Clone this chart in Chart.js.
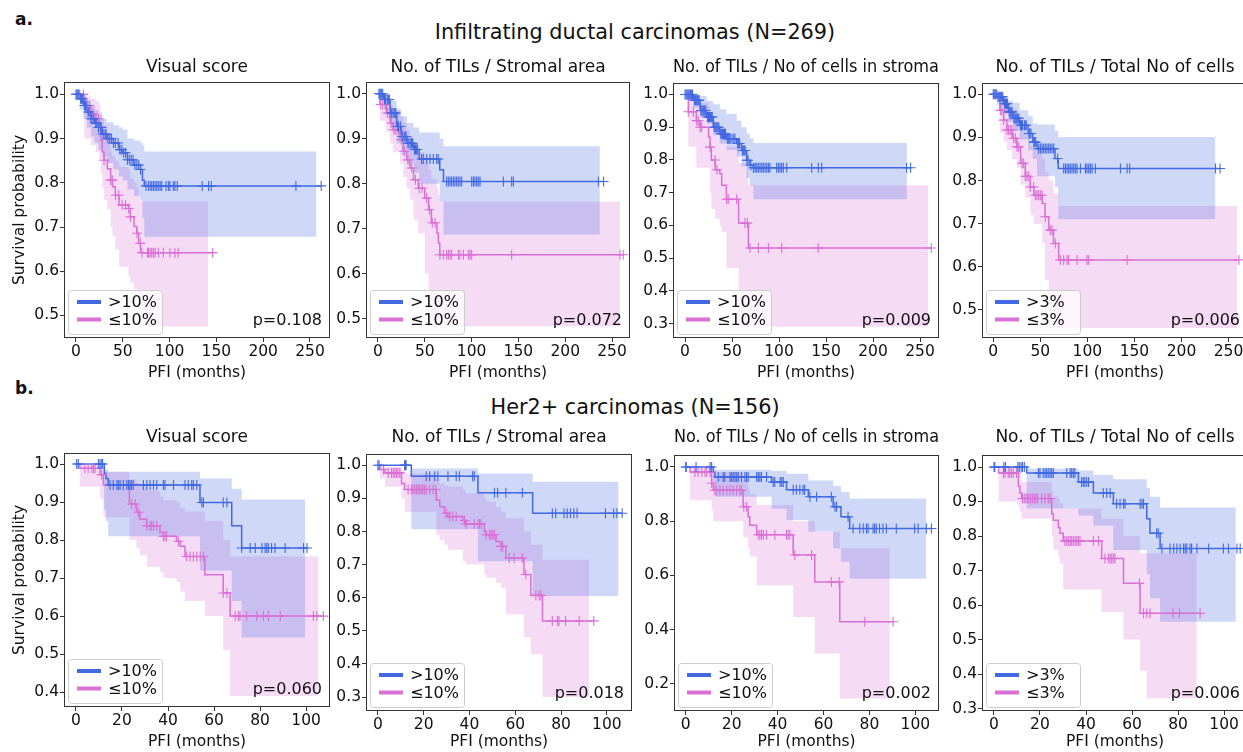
<!DOCTYPE html>
<html><head><meta charset="utf-8">
<script src="https://cdn.jsdelivr.net/npm/chart.js@4.4.1/dist/chart.umd.min.js"></script>
<style>
html,body{margin:0;padding:0;background:#fff;width:1243px;height:752px;overflow:hidden;position:relative;font-family:"DejaVu Sans",sans-serif;color:#111}
canvas{position:absolute}
.t{position:absolute;white-space:nowrap;line-height:1}
</style></head><body>
<div class="t" style="left:15px;top:11px;font-size:17px;font-weight:bold">a.</div>
<div class="t" style="left:635px;top:21.5px;font-size:20.8px;transform:translateX(-50%)">Infiltrating ductal carcinomas (N=269)</div>
<div class="t" style="left:15px;top:380px;font-size:17px;font-weight:bold">b.</div>
<div class="t" style="left:635px;top:397px;font-size:20.8px;transform:translateX(-50%)">Her2+ carcinomas (N=156)</div>
<script>
// ---------- tick labels ----------
const topXTicks = [0, 50, 100, 150, 200, 250];
const botXTicks = [0, 20, 40, 60, 80, 100];
const yTicks05 = [0.5, 0.6, 0.7, 0.8, 0.9, 1.0];
const yTicks03 = [0.3, 0.4, 0.5, 0.6, 0.7, 0.8, 0.9, 1.0];
const yTicks04 = [0.4, 0.5, 0.6, 0.7, 0.8, 0.9, 1.0];
const yTicks02 = [0.2, 0.4, 0.6, 0.8, 1.0];
const panelTitles = ["Visual score", "No. of TILs / Stromal area", "No. of TILs / No of cells in stroma", "No. of TILs / Total No of cells"];
const pValuesA = ["p=0.108", "p=0.072", "p=0.009", "p=0.006"];
const pValuesB = ["p=0.060", "p=0.018", "p=0.002", "p=0.006"];
const legend10 = [">10%", "≤10%"];
const legend3 = [">3%", "≤3%"];

// ---------- a1: Visual score (IDC) ----------
const a1HiT = [0,4,8,12,16,20,24,28,33,40,46,50,55,62,69,71,73];
const a1HiS = [1,.99,.975,.96,.945,.935,.925,.91,.90,.89,.875,.868,.852,.84,.83,.806,.793];
const a1HiU = [1,1,.995,.985,.975,.965,.955,.945,.937,.93,.925,.92,.90,.895,.89,.885,.871];
const a1HiL = [1,.965,.945,.925,.905,.89,.875,.86,.845,.83,.815,.805,.785,.77,.76,.72,.678];
const a1HiEnd = [262, 257];
const a1HiC = [0,1,2,3,5,6,7,9,10,11,13,14,16,17,19,21,22,24,26,27,29,31,32,34,36,38,40,42,45,47,49,51,53,55,57,59,61,63,65,67,69,74.8,77.3,79.3,81,82.7,84.5,86.3,88,89.9,91.6,96.2,98.7,100.4,104,105.7,108.2,134.9,141.6,144.5,235,262];
const a1LoT = [0,9,16,21,25,26.5,28,30,33.5,37,39,42,46,56,58,62,65,67,69];
const a1LoS = [1,.975,.956,.945,.926,.896,.87,.851,.832,.806,.791,.772,.75,.742,.723,.701,.686,.663,.642];
const a1LoU = [1,.995,.99,.985,.975,.96,.945,.93,.91,.87,.86,.85,.836,.83,.81,.80,.79,.77,.758];
const a1LoL = [1,.90,.885,.87,.85,.82,.79,.76,.74,.70,.68,.65,.61,.59,.575,.56,.545,.51,.475];
const a1LoEnd = [146, 141];
const a1LoC = [4,8,12,14.1,18,21.1,24,26.4,30,37,38.8,42.3,45.8,49.3,52.9,56.4,58.2,65.2,68.7,70.5,76.4,77.5,79.3,81,82.8,84.6,88,93.3,100.4,105.7,109.2,146];

// ---------- a2: Stromal area (IDC) ----------
const a2HiT = [0,6,13,20,25,31,38,44,66,70];
const a2HiS = [1,.987,.957,.927,.905,.89,.876,.855,.831,.805];
const a2HiU = [1,.998,.985,.965,.95,.935,.925,.914,.90,.883];
const a2HiL = [1,.965,.93,.89,.865,.845,.825,.80,.76,.687];
const a2HiEnd = [241, 237];
const a2HiC = [1,2,3,4,5,7,8,10,11,12,14,15,17,18,19,21,22,24,26,28,29,30,32,33,35,36,37,39,40,41,42,46.6,48.4,52,55.6,59.1,62.7,64.4,73.4,75.1,76.9,78.7,80.5,82.3,84,85.8,87.6,89.4,100.1,101.9,103.6,105.4,107.2,109,133.9,142.8,144.6,235.4,241];
const a2LoT = [0,2,9,13,16,23.5,27,30.6,34,38,43,50,54,57,63,64.5,66];
const a2LoS = [1,.976,.957,.935,.92,.898,.872,.853,.835,.809,.79,.768,.742,.713,.69,.668,.642];
const a2LoU = [1,.998,.99,.975,.965,.95,.935,.92,.905,.89,.87,.85,.83,.81,.79,.775,.76];
const a2LoL = [1,.94,.915,.89,.87,.845,.815,.79,.765,.72,.69,.60,.483,.483,.483,.483,.483];
const a2LoEnd = [262, 258.5];
const a2LoC = [3,5,8,10,12,14,17,19,22,25,28,32,36,40,44,47,52,55,58,61,66.2,69.8,73.3,75.1,76.9,78.7,85.8,87.6,91.2,96.6,98.4,100.1,142.8,258.5,262];

// ---------- a3: No of cells in stroma (IDC) ----------
const a3HiT = [0,9,16,23,30,37,44,55,60,65.6,69,72.7];
const a3HiS = [1,.982,.951,.931,.90,.88,.865,.85,.829,.799,.784,.776];
const a3HiU = [1,1,.995,.98,.97,.955,.94,.92,.90,.88,.866,.852];
const a3HiL = [1,.96,.93,.91,.875,.85,.83,.81,.78,.745,.72,.68];
const a3HiEnd = [240, 236];
const a3HiC = [0,1,2,3,4,5,6,7,8,10,11,12,13,14,15,17,18,19,20,21,22,24,25,26,27,28,29,31,32,33,34,35,36,38,39,40,41,42,43,45,46,47,48,50,52,53,56,57,58,61,62,63,64,66,67,70,72.7,74.5,76.2,78,79.8,81.6,83.3,85.1,86.9,88.7,90.4,97.5,99.3,101.1,102.8,104.6,108.2,134.8,141.8,145.4,235.8,240];
const a3LoT = [0,3.5,12,16,25,26.6,28,32,37,39,44,57,67.4];
const a3LoS = [1,.947,.92,.90,.87,.839,.80,.77,.758,.723,.68,.607,.531];
const a3LoU = [1,.995,.985,.975,.965,.94,.92,.90,.89,.87,.84,.79,.723];
const a3LoL = [1,.84,.776,.776,.776,.70,.65,.62,.60,.58,.47,.29,.29];
const a3LoEnd = [262, 259];
const a3LoC = [3.5,8.9,12.4,14.2,16,17.7,26.6,31.9,34,44.3,46,54.9,63.8,66.3,69.1,78,88.7,102.8,141.8,262];

// ---------- a4: Total No of cells (IDC) ----------
const a4HiT = [0,4,11,16,21,28,37,42,46.5,65.5,69];
const a4HiS = [1,.994,.978,.959,.944,.928,.909,.889,.874,.851,.828];
const a4HiU = [1,1,.995,.985,.98,.963,.95,.932,.93,.915,.901];
const a4HiL = [1,.975,.955,.935,.915,.895,.87,.85,.81,.785,.71];
const a4HiEnd = [241, 236];
const a4HiC = [0,1,2,3,5,6,7,8,9,10,12,13,14,15,17,18,19,20,22,23,24,25,26,27,29,30,31,33,34,35,38,39,40,43,44,45,48.2,50,51.8,53.5,55.3,57.1,58.9,60.6,62.4,64.2,68.4,74.8,76.6,78.4,80.1,81.9,83.7,85.5,87.2,89,92.6,97.9,99.6,101.4,103.2,105,108.5,135.1,142.2,145,236.2,241];
const a4LoT = [0,7,11,14.5,20,25,29,34,39.4,43,52,55,59,64,69.5];
const a4LoS = [1,.963,.94,.917,.898,.878,.84,.81,.785,.766,.747,.716,.685,.654,.616];
const a4LoU = [1,.995,.99,.975,.965,.95,.93,.91,.88,.87,.85,.82,.80,.77,.741];
const a4LoL = [1,.91,.89,.87,.85,.83,.79,.76,.72,.70,.654,.57,.458,.458,.458];
const a4LoEnd = [261, 259];
const a4LoC = [3.9,7.4,9.2,11,14.5,16.3,18.1,19.9,21.6,23.4,25.2,27,30.5,32.3,34,35.8,37.6,39.4,42.9,44.7,46.5,48.2,50,51.8,55.3,60.6,62.4,65.9,71.3,74.8,78.4,80.1,89,99.6,101.4,142.2,261];

// ---------- b1: Visual score (Her2+) ----------
const b1HiT = [0,12.3,13,14,53.9,67.7,72];
const b1HiS = [1,.975,.962,.945,.899,.838,.779];
const b1HiU = [1,.99,.985,.98,.962,.935,.907];
const b1HiL = [1,.88,.85,.81,.72,.64,.544];
const b1HiEnd = [100.4, 99.6];
const b1HiC = [0.3,1,9.8,10.5,11.2,11.6,14.8,16.2,17.8,18.5,19.2,20.6,22.1,22.8,23.5,24.2,24.9,29.3,30.8,32.2,33.7,35.1,38,38.7,42.4,47.4,48.8,50.3,51,52.5,54.7,55.4,64,65.6,72,75.7,77.9,80.8,82.2,82.9,83.6,85,86.5,90.9,98.9,100.4];
const b1LoT = [0,1.7,10.5,11.9,23.2,26.3,27.8,30.8,36.5,38,43.7,45.3,47.4,56,64,67];
const b1LoS = [1,.989,.972,.945,.895,.873,.855,.838,.82,.81,.797,.784,.757,.709,.661,.60];
const b1LoU = [1,.999,.99,.98,.96,.95,.945,.93,.915,.905,.90,.885,.875,.85,.80,.757];
const b1LoL = [1,.94,.91,.86,.80,.78,.76,.73,.715,.70,.69,.665,.64,.60,.51,.39];
const b1LoEnd = [107.5, 105.4];
const b1LoC = [3.9,5.3,6.9,7.6,8.3,11.2,24.2,25.7,27.1,30.8,32.2,32.9,33.7,35.1,38,38.7,39.4,44.5,48.1,49.6,51,52.5,54,55.4,64,65.6,69.2,70.6,71.3,74.2,78.6,81.5,83.6,88.8,103.2,104.7,107.5];

// ---------- b2: Stromal area (Her2+) ----------
const b2HiT = [0,14.6,43.7,67.6];
const b2HiS = [1,.967,.917,.855];
const b2HiU = [1,.99,.975,.95];
const b2HiL = [1,.807,.71,.605];
const b2HiEnd = [106.7, 105.1];
const b2HiC = [0,0.5,11.7,11.9,12.1,12.3,21.1,22.6,24.8,26.2,30.6,34.2,35.6,41.4,42.1,50.9,52.3,55.9,63.1,76.2,77.7,81.3,82.7,84.1,85.6,87,99.4,103,104.4,106.7];
const b2LoT = [0,0.9,3.1,10.3,11.7,25.5,27,29.1,30.6,37.1,38.5,46.5,47.3,51.6,53.8,55.9,63.8,66.8,71.9];
const b2LoS = [1,.987,.977,.945,.927,.895,.875,.855,.845,.833,.823,.80,.79,.77,.755,.72,.67,.607,.53];
const b2LoU = [1,.998,.995,.985,.975,.955,.945,.94,.935,.925,.915,.90,.89,.875,.86,.84,.80,.76,.715];
const b2LoL = [1,.96,.935,.90,.86,.79,.775,.76,.745,.71,.70,.67,.66,.645,.63,.55,.48,.43,.30];
const b2LoEnd = [94.3, 92.2];
const b2LoC = [2.4,4.5,5.9,6.7,7.4,8.1,8.8,9.6,13.2,14.6,15.3,16.1,16.8,17.5,18.2,19,19.7,20.4,21.1,22.6,24.1,25.2,29.9,31.3,32.7,34.2,37.8,38.5,42.1,43.7,44.4,45.1,47.3,48.7,49.4,50.1,50.9,53.8,54.5,57.4,59.5,63.1,64.6,69,70.4,71.2,76.2,78.4,79.1,82,87.9,94.3];

// ---------- b3: No of cells in stroma (Her2+) ----------
const b3HiT = [0,12,12.7,37.4,43.9,53.4,64.2,67.6,71.4];
const b3HiS = [1,.981,.963,.944,.916,.89,.853,.816,.773];
const b3HiU = [1,.995,.99,.985,.975,.95,.93,.908,.884];
const b3HiL = [1,.93,.89,.846,.804,.761,.699,.65,.588];
const b3HiEnd = [107, 104.8];
const b3HiC = [0,0.2,4.5,10.6,11.3,14.2,16.3,17,19.3,20,20.7,21.5,22.2,22.9,24.3,25.8,26.5,27.2,30.9,31.6,32.3,33,35.2,38.1,38.8,41.1,41.8,42.5,46.8,48.2,49.7,51.1,51.8,54.1,57,63.4,65,65.7,70.7,72.9,75.8,77.3,78.7,79.4,81.6,82.3,83,84.4,85.9,87.4,91.7,99.7,101.2,104.8,107];
const b3LoT = [0,1.9,11.3,12,25,27.2,27.9,30.9,46.8,56.2,67.1];
const b3LoS = [1,.981,.94,.914,.853,.816,.785,.75,.675,.576,.429];
const b3LoU = [1,.999,.99,.98,.95,.92,.90,.86,.80,.76,.70];
const b3LoL = [1,.877,.84,.80,.74,.70,.67,.564,.447,.312,.146];
const b3LoEnd = [90.3, 88.9];
const b3LoC = [4,5.4,7,8.4,9.1,10.6,11.3,12.7,13.5,14.9,16.3,17.9,19.3,20.7,22.2,23.6,24.3,25.3,26.5,31.6,32.3,33,33.8,35.2,38.8,43.9,44.6,45.4,47.5,54.8,63.4,66.8,78,90.3];

// ---------- b4: Total No of cells (Her2+) ----------
const b4HiT = [0,14.2,36.7,43.2,51.9,66.4,67.8,72.2];
const b4HiS = [1,.983,.957,.925,.894,.85,.808,.764];
const b4HiU = [1,.995,.99,.977,.965,.94,.914,.883];
const b4HiL = [1,.88,.86,.83,.76,.69,.62,.552];
const b4HiEnd = [107, 105.1];
const b4HiC = [0,0.4,4.3,5,10.4,11,11.8,12.4,13.2,19.3,20,21.4,22.2,22.9,23.6,24.4,25.1,25.8,31.6,33.1,33.8,34.5,35.2,38.1,38.8,39.5,40.3,41.1,47.5,49,50.5,53.3,54.8,56.3,57,63.5,64.3,65,70.7,71.4,73,76.5,78.1,79.5,80.9,82.4,83.1,83.8,85.2,85.9,88.2,93.3,99.7,101.9,105.6,107];
const b4LoT = [0,2,10.6,11.3,12,25.1,25.8,28,28.7,30.1,46.8,56.3,63.5,66.4];
const b4LoS = [1,.983,.945,.925,.909,.865,.846,.825,.808,.786,.735,.663,.576,.576];
const b4LoU = [1,.995,.985,.975,.957,.93,.915,.905,.895,.88,.85,.80,.75,.75];
const b4LoL = [1,.90,.885,.87,.85,.80,.76,.74,.72,.645,.58,.50,.41,.33];
const b4LoEnd = [89.6, 88.1];
const b4LoC = [4.1,4.8,6.2,6.9,7.6,8.4,9.8,12.4,13.1,13.8,14.5,15.2,16,16.8,17.6,18.3,19,20.7,22.1,23.6,24.4,30.8,31.6,32.3,33.1,33.8,34.5,35.3,36,36.7,37.4,43.2,45.4,48.2,49.7,50.5,51.2,51.9,52.6,63.2,65,66.4,67.8,77.8,80.6,89.6];

// ---------- styles ----------
const BLUE = '#4169E1', PINK = '#DA70D6';
const BLUE_BAND = 'rgba(65,105,225,0.25)', PINK_BAND = 'rgba(218,112,214,0.25)';
const FONT = "'DejaVu Sans', sans-serif";
Chart.defaults.font.family = FONT;
Chart.defaults.color = '#111';

function grp(T, S, U, L, End, C) { return {T, S, U, L, End, C}; }
function stepAt(T, S, c) { let v = S[0]; for (let i = 0; i < T.length; i++) { if (T[i] <= c) v = S[i]; else break; } return v; }
function pts(T, V, end) { const d = T.map((t, i) => ({x: t, y: V[i]})); d.push({x: end, y: V[V.length - 1]}); return d; }

const panels = [
  {box:[64,82,330,338], xr:[-12.8,271.4], xt:topXTicks, yr:[0.449,1.028], yt:yTicks05, title:panelTitles[0], tcy:67.5, xty:373.3, ytitle:true, leg:legend10, p:pValuesA[0], hi:grp(a1HiT,a1HiS,a1HiU,a1HiL,a1HiEnd,a1HiC), lo:grp(a1LoT,a1LoS,a1LoU,a1LoL,a1LoEnd,a1LoC)},
  {box:[366,82,630,338], xr:[-12.8,269.2], xt:topXTicks, yr:[0.457,1.026], yt:yTicks05, title:panelTitles[1], tcy:67.5, xty:373.3, ytitle:false, leg:legend10, p:pValuesA[1], hi:grp(a2HiT,a2HiS,a2HiU,a2HiL,a2HiEnd,a2HiC), lo:grp(a2LoT,a2LoS,a2LoU,a2LoL,a2LoEnd,a2LoC)},
  {box:[673,83,939,338], xr:[-12.8,270.2], xt:topXTicks, yr:[0.256,1.035], yt:yTicks03, title:panelTitles[2], tcy:67.5, xty:373.3, ytitle:false, leg:legend10, p:pValuesA[2], hi:grp(a3HiT,a3HiS,a3HiU,a3HiL,a3HiEnd,a3HiC), lo:grp(a3LoT,a3LoS,a3LoU,a3LoL,a3LoEnd,a3LoC)},
  {box:[982,83,1248,338], xr:[-12,270.7], xt:topXTicks, yr:[0.435,1.026], yt:yTicks05, title:panelTitles[3], tcy:67.5, xty:373.3, ytitle:false, leg:legend3, p:pValuesA[3], hi:grp(a4HiT,a4HiS,a4HiU,a4HiL,a4HiEnd,a4HiC), lo:grp(a4LoT,a4LoS,a4LoU,a4LoL,a4LoEnd,a4LoC)},
  {box:[64,453,330,707], xr:[-5.2,110.4], xt:botXTicks, yr:[0.361,1.029], yt:yTicks04, title:panelTitles[0], tcy:438, xty:742, ytitle:true, leg:legend10, p:pValuesB[0], hi:grp(b1HiT,b1HiS,b1HiU,b1HiL,b1HiEnd,b1HiC), lo:grp(b1LoT,b1LoS,b1LoU,b1LoL,b1LoEnd,b1LoC)},
  {box:[366,454,632,711], xr:[-5.2,111], xt:botXTicks, yr:[0.258,1.034], yt:yTicks03, title:panelTitles[1], tcy:438, xty:742, ytitle:false, leg:legend10, p:pValuesB[1], hi:grp(b2HiT,b2HiS,b2HiU,b2HiL,b2HiEnd,b2HiC), lo:grp(b2LoT,b2LoS,b2LoU,b2LoL,b2LoEnd,b2LoC)},
  {box:[674,455,939,711], xr:[-5.1,110.3], xt:botXTicks, yr:[0.10,1.044], yt:yTicks02, title:panelTitles[2], tcy:438, xty:742, ytitle:false, leg:legend10, p:pValuesB[2], hi:grp(b3HiT,b3HiS,b3HiU,b3HiL,b3HiEnd,b3HiC), lo:grp(b3LoT,b3LoS,b3LoU,b3LoL,b3LoEnd,b3LoC)},
  {box:[982,455,1248,711], xr:[-5.2,110.4], xt:botXTicks, yr:[0.293,1.035], yt:yTicks03, title:panelTitles[3], tcy:438, xty:742, ytitle:false, leg:legend3, p:pValuesB[3], hi:grp(b4HiT,b4HiS,b4HiU,b4HiL,b4HiEnd,b4HiC), lo:grp(b4LoT,b4LoS,b4LoU,b4LoL,b4LoEnd,b4LoC)}
];

const kmDecor = {
  id: 'kmDecor',
  afterDatasetsDraw(chart, args, o) {
    const ctx = chart.ctx, a = chart.chartArea;
    ctx.save();
    ctx.strokeStyle = '#333'; ctx.lineWidth = 1;
    ctx.strokeRect(Math.round(a.left) + 0.5, Math.round(a.top) + 0.5, Math.round(a.right - a.left) - 1, Math.round(a.bottom - a.top) - 1);
    const lw = 94, lh = 44, lx = a.left + 4, ly = a.bottom - 4 - lh;
    ctx.beginPath();
    if (ctx.roundRect) ctx.roundRect(lx + 0.5, ly + 0.5, lw, lh, 3); else ctx.rect(lx + 0.5, ly + 0.5, lw, lh);
    ctx.fillStyle = 'rgba(255,255,255,0.8)'; ctx.fill();
    ctx.strokeStyle = '#cccccc'; ctx.lineWidth = 1; ctx.stroke();
    const rows = [[BLUE, o.labels[0], ly + 12], [PINK, o.labels[1], ly + 29.5]];
    ctx.font = '16px ' + FONT; ctx.textBaseline = 'middle'; ctx.textAlign = 'left';
    for (const [c, txt, y] of rows) {
      ctx.strokeStyle = c; ctx.lineWidth = 4; ctx.lineCap = 'butt';
      ctx.beginPath(); ctx.moveTo(lx + 9, y); ctx.lineTo(lx + 33, y); ctx.stroke();
      ctx.fillStyle = '#111'; ctx.fillText(txt, lx + 40, y + 1);
    }
    ctx.textAlign = 'right'; ctx.textBaseline = 'alphabetic';
    ctx.fillText(o.p, Math.min(a.right, 1243) - 8, a.bottom - 13);
    ctx.restore();
  }
};

panels.forEach((P, idx) => {
  const [L, T, R, B] = P.box;
  const cLeft = L - 60, cTop = Math.round(P.tcy - 14);
  const cW = (R - L) + 70, cH = (B + 45) - cTop;
  const cv = document.createElement('canvas');
  cv.width = cW; cv.height = cH;
  cv.style.left = cLeft + 'px'; cv.style.top = cTop + 'px';
  cv.style.width = cW + 'px'; cv.style.height = cH + 'px';
  document.body.appendChild(cv);
  const titleLH = 17 * 1.2;
  const titlePadTop = (P.tcy - cTop) - titleLH / 2;
  const titlePadBottom = T - cTop - titlePadTop - titleLH;
  const xTitlePad = 45 - (P.xty - B) - 9.3;
  const cens = (g, color) => ({
    data: g.C.map(c => ({x: c, y: stepAt(g.T, g.S, c)})), showLine: false,
    pointStyle: 'cross', pointRadius: 5, pointHoverRadius: 5, pointBorderWidth: 1.1,
    borderColor: color, backgroundColor: color, pointBorderColor: color
  });
  const line = (g, color) => ({
    data: pts(g.T, g.S, g.End[0]), stepped: true, borderColor: color, borderWidth: 1.5,
    pointRadius: 0, fill: false
  });
  const band = (g, V, fillCol, isLower) => ({
    data: pts(g.T, V, g.End[1]), stepped: true, borderColor: 'rgba(0,0,0,0)', borderWidth: 0,
    pointRadius: 0, fill: isLower ? '-1' : false, backgroundColor: fillCol
  });
  new Chart(cv, {
    type: 'line',
    data: { datasets: [
      cens(P.hi, BLUE), cens(P.lo, PINK),
      line(P.hi, BLUE), line(P.lo, PINK),
      band(P.hi, P.hi.U, BLUE_BAND, false), band(P.hi, P.hi.L, BLUE_BAND, true),
      band(P.lo, P.lo.U, PINK_BAND, false), band(P.lo, P.lo.L, PINK_BAND, true)
    ]},
    options: {
      responsive: false, animation: false, events: [],
      layout: { padding: {left: 0, right: 10, top: 0, bottom: 0} },
      plugins: {
        legend: {display: false}, tooltip: {enabled: false},
        filler: {drawTime: 'beforeDatasetsDraw'},
        title: { display: true, text: P.title, fullSize: false, color: '#111',
                 font: {size: 17, lineHeight: 1.2, weight: 'normal'}, padding: {top: titlePadTop, bottom: titlePadBottom} },
        kmDecor: { labels: P.leg, p: P.p }
      },
      scales: {
        x: { type: 'linear', min: P.xr[0], max: P.xr[1],
             afterBuildTicks: s => { s.ticks = P.xt.map(v => ({value: v})); },
             afterFit: s => { s.height = 45; s.paddingLeft = 0; s.paddingRight = 0; },
             grid: {display: true, drawOnChartArea: false, drawTicks: true, tickLength: 4, color: '#333'},
             border: {display: false},
             ticks: {font: {size: 15.5}, color: '#111', padding: 1, maxRotation: 0, autoSkip: false, callback: v => String(v)},
             title: {display: true, text: 'PFI (months)', color: '#111', font: {size: 15.5, lineHeight: 1.2}, padding: {top: 0, bottom: xTitlePad}} },
        y: { type: 'linear', min: P.yr[0], max: P.yr[1],
             afterBuildTicks: s => { s.ticks = P.yt.map(v => ({value: v})); },
             afterFit: s => { s.width = 60; s.paddingTop = 0; s.paddingBottom = 0; },
             grid: {display: true, drawOnChartArea: false, drawTicks: true, tickLength: 4, color: '#333'},
             border: {display: false},
             ticks: {font: {size: 15.5}, color: '#111', padding: 1, autoSkip: false, callback: v => v.toFixed(1)},
             title: {display: P.ytitle, text: 'Survival probability', color: '#111', font: {size: 15.5, lineHeight: 1.2}, padding: {top: 6.7, bottom: 0}} }
      }
    },
    plugins: [kmDecor]
  });
});
</script>
</body></html>
